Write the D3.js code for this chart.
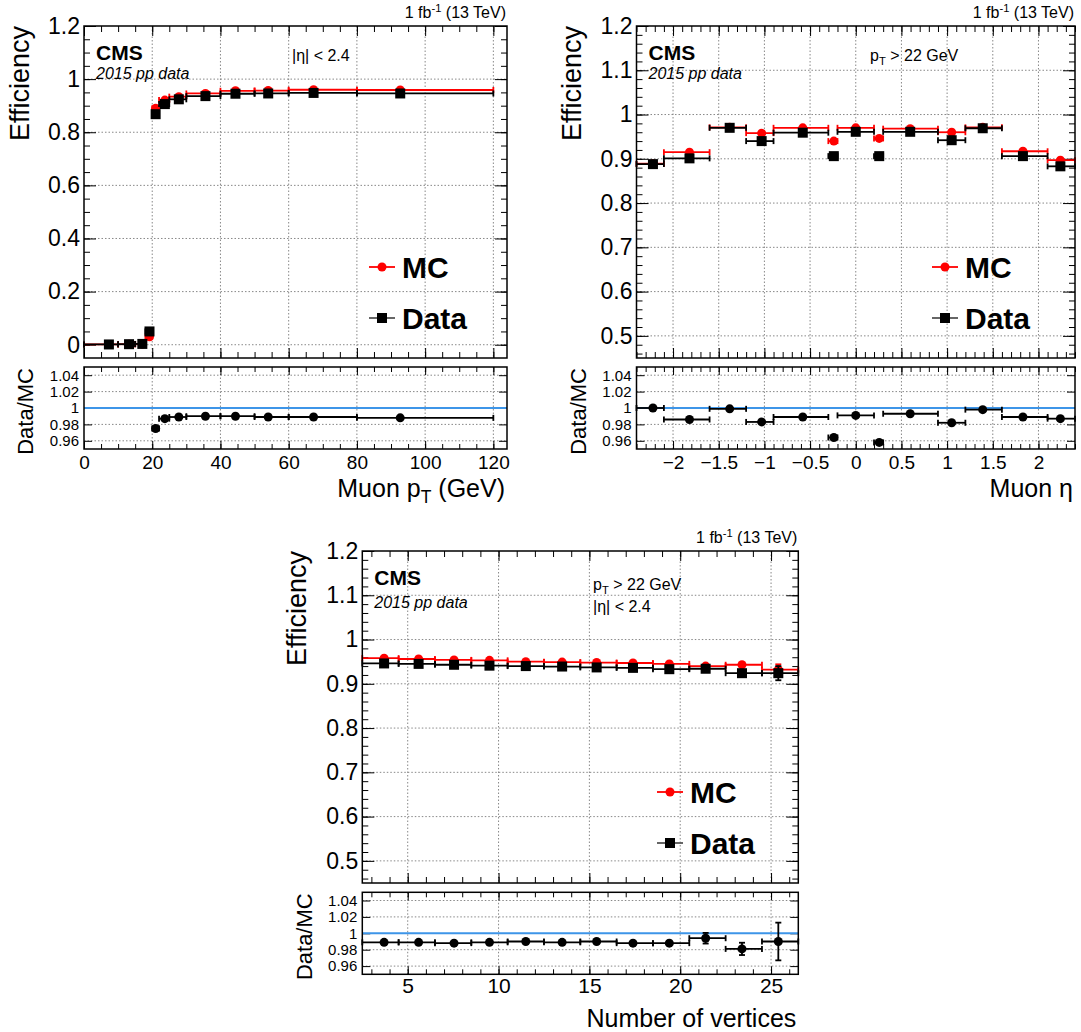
<!DOCTYPE html>
<html>
<head>
<meta charset="utf-8">
<script src="https://cdn.jsdelivr.net/npm/d3@7"></script>
<style>
  body { margin: 0; background: #fff; }
  text { font-family: "Liberation Sans", Arial, Helvetica, sans-serif; }
</style>
</head>
<body>
<svg id="c" width="1081" height="1032"></svg>
<script>
// ---------- data ----------
// muon pT (GeV)
const ptLo = [0, 10, 15, 18, 20, 22, 25, 30, 40, 50, 60, 80];
const ptHi = [10, 15, 18, 20, 22, 25, 30, 40, 50, 60, 80, 120];
const ptX = [7.3, 13.2, 17.1, 19.2, 21.0, 23.7, 27.8, 35.6, 44.4, 54.0, 67.3, 92.7];
const ptEffMC = [0.001, 0.002, 0.002, 0.030, 0.890, 0.921, 0.934, 0.946, 0.956, 0.957, 0.960, 0.959];
const ptEffData = [0.001, 0.002, 0.003, 0.050, 0.868, 0.906, 0.924, 0.936, 0.945, 0.946, 0.948, 0.946];
const ptRatio = [null, null, null, null, 0.975, 0.987, 0.989, 0.990, 0.990, 0.989, 0.989, 0.988];

// muon eta
const etaLo = [-2.4, -2.1, -1.6, -1.2, -0.9, -0.3, -0.2, 0.2, 0.3, 0.9, 1.2, 1.6, 2.1];
const etaHi = [-2.1, -1.6, -1.2, -0.9, -0.3, -0.2, 0.2, 0.3, 0.9, 1.2, 1.6, 2.1, 2.4];
const etaX = [-2.22, -1.82, -1.38, -1.03, -0.58, -0.24, 0.0, 0.257, 0.596, 1.05, 1.39, 1.83, 2.24];
const etaEffMC = [0.889, 0.915, 0.971, 0.958, 0.970, 0.940, 0.970, 0.946, 0.968, 0.960, 0.971, 0.917, 0.897];
const etaEffData = [0.888, 0.901, 0.970, 0.940, 0.959, 0.906, 0.961, 0.906, 0.961, 0.942, 0.969, 0.906, 0.883];
const etaRatio = [1.000, 0.986, 0.999, 0.983, 0.989, 0.964, 0.991, 0.958, 0.993, 0.982, 0.998, 0.989, 0.987];

// number of vertices
const nvLo = [2.5, 4.5, 6.5, 8.5, 10.5, 12.5, 14.5, 16.5, 18.5, 20.5, 22.5, 24.5];
const nvHi = [4.5, 6.5, 8.5, 10.5, 12.5, 14.5, 16.5, 18.5, 20.5, 22.5, 24.5, 26.5];
const nvX = [3.7, 5.6, 7.55, 9.5, 11.5, 13.5, 15.4, 17.4, 19.4, 21.4, 23.4, 25.4];
const nvEffMC = [0.958, 0.956, 0.954, 0.953, 0.950, 0.949, 0.948, 0.947, 0.945, 0.940, 0.943, 0.932];
const nvErrMC = [0, 0, 0, 0, 0, 0, 0, 0, 0, 0.002, 0.003, 0.012];
const nvEffData = [0.946, 0.945, 0.943, 0.941, 0.940, 0.939, 0.937, 0.936, 0.933, 0.934, 0.924, 0.924];
const nvErrData = [0, 0, 0, 0, 0, 0, 0, 0, 0, 0.003, 0.004, 0.016];
const nvRatio = [0.989, 0.989, 0.988, 0.989, 0.990, 0.989, 0.990, 0.988, 0.988, 0.994, 0.981, 0.990];
const nvRatioErr = [0, 0, 0, 0, 0, 0, 0, 0, 0, 0.0065, 0.0075, 0.023];

// tick values
const ptTicks = [0, 20, 40, 60, 80, 100, 120];
const etaTicks = [-2, -1.5, -1, -0.5, 0, 0.5, 1, 1.5, 2];
const nvTicks = [5, 10, 15, 20, 25];
const effTicksPt = [0, 0.2, 0.4, 0.6, 0.8, 1, 1.2];
const effTicksZoom = [0.5, 0.6, 0.7, 0.8, 0.9, 1, 1.1, 1.2];
const ratioTicks = [0.96, 0.98, 1, 1.02, 1.04];

// ---------- drawing ----------
const svg = d3.select("#c");
const fmt = d3.format("~g");

function axis(gen, tx, ty) {
  const g = svg.append("g").attr("transform", `translate(${tx},${ty})`).call(gen);
  g.select(".domain").remove();
  g.selectAll(".tick line").attr("stroke", "#000");
  return g;
}

function rows(lo, hi, xs, v, err) {
  return v.map((d, i) => ({ lo: lo[i], hi: hi[i], x: xs[i], v: d, e: err ? err[i] : 0 }))
    .filter(d => d.v != null);
}

function drawSeries(g, x, y, data, color, shape, size) {
  const gl = g.append("g").attr("stroke", color).attr("stroke-width", 1.8);
  gl.selectAll("line.h").data(data).join("line")
    .attr("x1", d => x(d.lo)).attr("x2", d => x(d.hi))
    .attr("y1", d => y(d.v)).attr("y2", d => y(d.v));
  gl.selectAll("line.c0").data(data).join("line")
    .attr("x1", d => x(d.lo)).attr("x2", d => x(d.lo))
    .attr("y1", d => y(d.v) - 3).attr("y2", d => y(d.v) + 3);
  gl.selectAll("line.c1").data(data).join("line")
    .attr("x1", d => x(d.hi)).attr("x2", d => x(d.hi))
    .attr("y1", d => y(d.v) - 3).attr("y2", d => y(d.v) + 3);
  const ge = data.filter(d => d.e > 0);
  gl.selectAll("line.v").data(ge).join("line")
    .attr("x1", d => x(d.x)).attr("x2", d => x(d.x))
    .attr("y1", d => y(d.v - d.e)).attr("y2", d => y(d.v + d.e));
  gl.selectAll("line.vc0").data(ge).join("line")
    .attr("x1", d => x(d.x) - 3).attr("x2", d => x(d.x) + 3)
    .attr("y1", d => y(d.v - d.e)).attr("y2", d => y(d.v - d.e));
  gl.selectAll("line.vc1").data(ge).join("line")
    .attr("x1", d => x(d.x) - 3).attr("x2", d => x(d.x) + 3)
    .attr("y1", d => y(d.v + d.e)).attr("y2", d => y(d.v + d.e));
  if (shape === "circle") {
    g.selectAll("circle.m").data(data).join("circle")
      .attr("cx", d => x(d.x)).attr("cy", d => y(d.v)).attr("r", size / 2)
      .attr("fill", color);
  } else {
    g.selectAll("rect.m").data(data).join("rect")
      .attr("x", d => x(d.x) - size / 2).attr("y", d => y(d.v) - size / 2)
      .attr("width", size).attr("height", size).attr("fill", color);
  }
}

function subText(sel, x, y, size, parts) {
  // parts: [text, "sub"|"sup"|null]
  const t = svg.append("text").attr("x", x).attr("y", y).attr("font-size", size);
  let shift = 0;
  parts.forEach(([s, k]) => {
    const target = k === "sub" ? size * 0.25 : k === "sup" ? -size * 0.38 : 0;
    t.append("tspan").attr("dy", target - shift)
      .attr("font-size", k ? size * 0.7 : size).text(s);
    shift = target;
  });
  if (sel.anchor) t.attr("text-anchor", sel.anchor);
  return t;
}

function drawPanel(p) {
  const x = d3.scaleLinear().domain(p.xDom).range([p.left, p.right]);
  const yM = d3.scaleLinear().domain(p.yDom).range([p.mainBot, p.mainTop]);
  const yR = d3.scaleLinear().domain([0.95, 1.05]).range([p.ratBot, p.ratTop]);
  const W = p.right - p.left;

  // grids
  const grid = svg.append("g").attr("stroke", "#888").attr("stroke-width", 1)
    .attr("stroke-dasharray", "1.5,2");
  const gx = p.xTicks.filter(v => x(v) > p.left + 1 && x(v) < p.right - 1);
  [[p.mainTop, p.mainBot], [p.ratTop, p.ratBot]].forEach(([t, b]) => {
    grid.append("g").selectAll("line").data(gx).join("line")
      .attr("x1", d => x(d)).attr("x2", d => x(d)).attr("y1", t).attr("y2", b);
  });
  grid.append("g").selectAll("line")
    .data(p.yTicks.filter(v => yM(v) > p.mainTop + 1 && yM(v) < p.mainBot - 1)).join("line")
    .attr("x1", p.left).attr("x2", p.right).attr("y1", d => yM(d)).attr("y2", d => yM(d));
  grid.append("g").selectAll("line").data(ratioTicks.filter(v => v !== 1)).join("line")
    .attr("x1", p.left).attr("x2", p.right).attr("y1", d => yR(d)).attr("y2", d => yR(d));

  // ticks main
  const noLab = () => "";
  axis(d3.axisBottom(x).tickValues(p.xMinor).tickSize(-6).tickFormat(noLab), 0, p.mainBot);
  axis(d3.axisBottom(x).tickValues(p.xTicks).tickSize(-10).tickFormat(noLab), 0, p.mainBot);
  axis(d3.axisTop(x).tickValues(p.xMinor).tickSize(-6).tickFormat(noLab), 0, p.mainTop);
  axis(d3.axisTop(x).tickValues(p.xTicks).tickSize(-10).tickFormat(noLab), 0, p.mainTop);
  axis(d3.axisRight(yM).tickValues(p.yMinor).tickSize(-6).tickFormat(noLab), p.right, 0);
  axis(d3.axisRight(yM).tickValues(p.yTicks).tickSize(-12).tickFormat(noLab), p.right, 0);
  axis(d3.axisLeft(yM).tickValues(p.yMinor).tickSize(-6).tickFormat(noLab), p.left, 0);
  const ly = axis(d3.axisLeft(yM).tickValues(p.yTicks).tickSize(-12).tickPadding(4).tickFormat(fmt), p.left, 0);
  ly.selectAll("text").attr("font-size", 23).attr("font-family", null).attr("fill", "#000");

  // ticks ratio
  axis(d3.axisTop(x).tickValues(p.xMinor).tickSize(-5).tickFormat(noLab), 0, p.ratTop);
  axis(d3.axisTop(x).tickValues(p.xTicks).tickSize(-8).tickFormat(noLab), 0, p.ratTop);
  axis(d3.axisBottom(x).tickValues(p.xMinor).tickSize(-5).tickFormat(noLab), 0, p.ratBot);
  const lx = axis(d3.axisBottom(x).tickValues(p.xTicks).tickSize(-8).tickPadding(p.xPad).tickFormat(fmt), 0, p.ratBot);
  lx.selectAll("text").attr("font-size", p.xFont).attr("font-family", null).attr("fill", "#000");
  axis(d3.axisRight(yR).tickValues(ratioTicks).tickSize(-8).tickFormat(noLab), p.right, 0);
  const lr = axis(d3.axisLeft(yR).tickValues(ratioTicks).tickSize(-8).tickPadding(5).tickFormat(fmt), p.left, 0);
  lr.selectAll("text").attr("font-size", 15).attr("font-family", null).attr("fill", "#000");

  // unity line
  svg.append("line").attr("x1", p.left).attr("x2", p.right)
    .attr("y1", yR(1)).attr("y2", yR(1)).attr("stroke", "#3d95e8").attr("stroke-width", 2);

  // series
  const gm = svg.append("g");
  drawSeries(gm, x, yM, rows(p.lo, p.hi, p.xs, p.mc, p.mcErr), "#ff0000", "circle", 9);
  drawSeries(gm, x, yM, rows(p.lo, p.hi, p.xs, p.data, p.dataErr), "#000", "rect", 10);
  drawSeries(svg.append("g"), x, yR, rows(p.lo, p.hi, p.xs, p.ratio, p.ratioErr), "#000", "circle", 9);

  // frames
  [[p.mainTop, p.mainBot], [p.ratTop, p.ratBot]].forEach(([t, b]) => {
    svg.append("rect").attr("x", p.left).attr("y", t).attr("width", W).attr("height", b - t)
      .attr("fill", "none").attr("stroke", "#000").attr("stroke-width", 1.5);
  });

  // axis titles
  svg.append("text").attr("text-anchor", "end").attr("font-size", 27)
    .attr("transform", `translate(${p.effX},${p.mainTop}) rotate(-90)`).text("Efficiency");
  svg.append("text").attr("text-anchor", "end").attr("font-size", 22)
    .attr("transform", `translate(${p.ratX},${p.ratTop + 1}) rotate(-90)`).text("Data/MC");
  const xt = subText({ anchor: "end" }, p.right - 2, p.xTitleY, 25, p.xTitle);

  // header and labels
  subText({ anchor: "end" }, p.right - 1, p.mainTop - 8, 16,
    [["1 fb", null], ["-1", "sup"], [" (13 TeV)", null]]);
  svg.append("text").attr("x", p.left + 12).attr("y", p.mainTop + 34)
    .attr("font-size", 21).attr("font-weight", "bold").text("CMS");
  svg.append("text").attr("x", p.left + 12).attr("y", p.mainTop + p.dataY)
    .attr("font-size", 16).attr("font-style", "italic").text("2015 pp data");
  p.cuts.forEach(c => subText({}, c.x, c.y, 16, c.parts));

  // legend
  const lg = svg.append("g");
  lg.append("line").attr("x1", p.legX - 13).attr("x2", p.legX + 13)
    .attr("y1", p.legY).attr("y2", p.legY).attr("stroke", "#ff0000").attr("stroke-width", 1.8);
  lg.append("circle").attr("cx", p.legX).attr("cy", p.legY).attr("r", 4.5).attr("fill", "#ff0000");
  lg.append("line").attr("x1", p.legX - 13).attr("x2", p.legX + 13)
    .attr("y1", p.legY + 51).attr("y2", p.legY + 51).attr("stroke", "#555").attr("stroke-width", 1.8);
  lg.append("rect").attr("x", p.legX - 5).attr("y", p.legY + 46).attr("width", 10).attr("height", 10).attr("fill", "#000");
  lg.append("text").attr("x", p.legX + 20).attr("y", p.legY + 11).attr("font-size", 30)
    .attr("font-weight", "bold").text("MC");
  lg.append("text").attr("x", p.legX + 20).attr("y", p.legY + 62).attr("font-size", 30)
    .attr("font-weight", "bold").text("Data");
}

const ptT = [["p", null], ["T", "sub"], [" > 22 GeV", null]];
const etaT = [["|η| < 2.4", null]];

drawPanel({
  xDom: [0, 124], left: 84, right: 507, mainTop: 26, mainBot: 358, ratTop: 367, ratBot: 449,
  yDom: [-0.05, 1.2], yTicks: effTicksPt, yMinor: d3.range(0, 25).map(k => k * 0.05),
  xTicks: ptTicks, xMinor: d3.range(0, 25).map(k => k * 5), xFont: 19, xPad: 7,
  lo: ptLo, hi: ptHi, xs: ptX, mc: ptEffMC, data: ptEffData, ratio: ptRatio,
  effX: 29, ratX: 33, xTitleY: 497,
  xTitle: [["Muon p", null], ["T", "sub"], [" (GeV)", null]],
  dataY: 53, cuts: [{ x: 292, y: 61, parts: etaT }],
  legX: 382, legY: 267
});

drawPanel({
  xDom: [-2.4, 2.4], left: 636.5, right: 1075, mainTop: 26, mainBot: 358, ratTop: 367, ratBot: 449,
  yDom: [0.45, 1.2], yTicks: effTicksZoom, yMinor: d3.range(23, 61).map(k => k * 0.02),
  xTicks: etaTicks, xMinor: d3.range(-24, 25).map(k => k * 0.1), xFont: 19, xPad: 7,
  lo: etaLo, hi: etaHi, xs: etaX, mc: etaEffMC, data: etaEffData, ratio: etaRatio,
  effX: 581, ratX: 586, xTitleY: 497,
  xTitle: [["Muon η", null]],
  dataY: 53, cuts: [{ x: 870, y: 61, parts: ptT }],
  legX: 945, legY: 267
});

drawPanel({
  xDom: [2.5, 26.5], left: 362.3, right: 798.3, mainTop: 551, mainBot: 883, ratTop: 892.3, ratBot: 974.3,
  yDom: [0.45, 1.2], yTicks: effTicksZoom, yMinor: d3.range(23, 61).map(k => k * 0.02),
  xTicks: nvTicks, xMinor: d3.range(3, 27), xFont: 21, xPad: 4,
  lo: nvLo, hi: nvHi, xs: nvX, mc: nvEffMC, mcErr: nvErrMC, data: nvEffData, dataErr: nvErrData,
  ratio: nvRatio, ratioErr: nvRatioErr,
  effX: 306, ratX: 312, xTitleY: 1027,
  xTitle: [["Number of vertices", null]],
  dataY: 57, cuts: [{ x: 593, y: 590, parts: ptT }, { x: 593, y: 612, parts: etaT }],
  legX: 670, legY: 792
});
</script>
</body>
</html>
